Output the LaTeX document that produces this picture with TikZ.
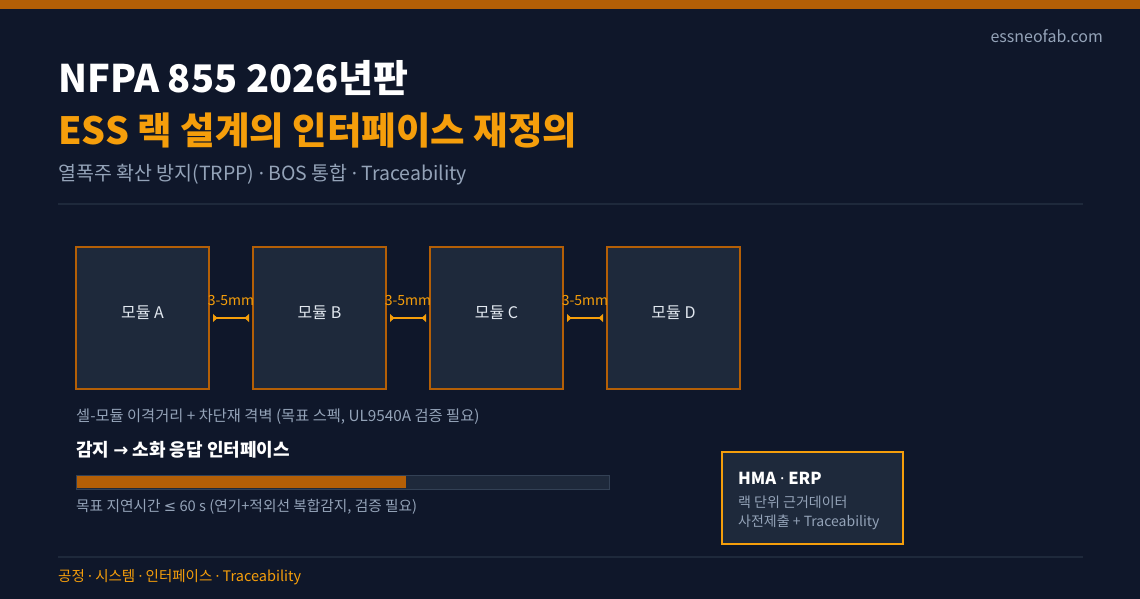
\documentclass[tikz,border=0pt]{standalone}
\usepackage{fontspec}
\setmainfont{Noto Sans CJK KR}
\newfontfamily\latinfont{Noto Sans}
\newfontfamily\symfont{DejaVu Sans}
\newcommand{\mdot}{{\latinfont ·}}
\newcommand{\leqmark}{{\symfont ≤}}
\newcommand{\rarrow}{{\symfont →}}
\usetikzlibrary{positioning,chains,arrows.meta}
\definecolor{bgnavy}{HTML}{0F172A}
\definecolor{panel}{HTML}{1E293B}
\definecolor{rust}{HTML}{B45F06}
\definecolor{amber}{HTML}{F59E0B}
\definecolor{slategray}{HTML}{94A3B8}
\definecolor{lighttext}{HTML}{E2E8F0}
\definecolor{rule}{HTML}{1E293B}
\definecolor{barline}{HTML}{334155}
\tikzset{
  module/.style={
    rectangle,
    draw=rust, line width=2pt,
    fill=panel,
    minimum width=133pt,
    minimum height=142pt,
    inner sep=0pt, outer sep=0pt,
    text height=6pt, text depth=6pt,
    text=lighttext,
    font=\fontsize{16}{19}\selectfont,
    on chain},
  gapline/.style={draw=amber, line width=1.5pt,
    {Latex[reversed,length=5pt,width=9pt]}-{Latex[reversed,length=5pt,width=9pt]},
    shorten <=4pt, shorten >=4pt},
  gaplabel/.style={text=amber, font=\fontsize{14}{16}\selectfont, inner sep=0pt},
  txt/.style={anchor=base west, inner sep=0pt},
  smallgray/.style={txt, text=slategray, font=\fontsize{15.3}{18}\selectfont},
  sepline/.style={draw=rule, line width=1.2pt},
}
\begin{document}
\begin{tikzpicture}[x=1pt, y=-1pt, node distance=44pt, start chain=going right]
  % background
  \fill[bgnavy] (0,0) rectangle (1140,599);
  \useasboundingbox (0,0) rectangle (1140,599);
  \fill[rust] (0,0) rectangle (1140,9);

  % header
  \node[anchor=base east, inner sep=0pt, text=slategray, font=\fontsize{16}{19}\selectfont] (site) at (1103,43) {essneofab.com};
  \node[txt, text=white, font=\fontsize{38}{44}\bfseries] (title) at (58,93) {NFPA 855 2026년판};
  \node[txt, text=amber, font=\fontsize{37.5}{44}\bfseries] (headline) at (58,145) {ESS 랙 설계의 인터페이스 재정의};
  \node[txt, text=slategray, font=\fontsize{19.5}{23}\selectfont] (subtitle) at (58,180) {열폭주 확산 방지(TRPP) \mdot{} BOS 통합 \mdot{} Traceability};
  \draw[sepline] (58,204) coordinate (topL) -- (1083,204) coordinate (topR);

  % modules
  \node[module] (modA) at (142.5,318) {모듈 A};
  \node[module] (modB) {모듈 B};
  \node[module] (modC) {모듈 C};
  \node[module] (modD) {모듈 D};
  \foreach \a/\b in {modA/modB, modB/modC, modC/modD}{
    \draw[gapline] (\a.east) -- (\b.west);
    \path (\a.east) -- (\b.west) node[gaplabel, midway, yshift=17pt] (gap\a) {3-5mm};
  }
  \node[smallgray] (spacing) at (76,421) {셀-모듈 이격거리 + 차단재 격벽 (목표 스펙, UL9540A 검증 필요)};

  % response bar
  \node[txt, text=white, font=\fontsize{18}{21}\bfseries] (resp) at (76,456) {감지 \rarrow{} 소화 응답 인터페이스};
  \draw[barline, fill=panel, line width=1pt] (76,475) coordinate (barL) rectangle (609,489) coordinate (barR);
  \fill[rust] (77,476) rectangle (406,488);
  \node[smallgray, font=\fontsize{14.7}{17}\selectfont] (latency) at (76,511) {목표 지연시간 \leqmark{} 60 s (연기+적외선 복합감지, 검증 필요)};

  % HMA box
  \node[rectangle, draw=amber, line width=2pt, fill=panel, minimum width=181pt, minimum height=92pt, inner sep=0pt] (hma) at (812.5,498) {};
  \node[txt, text=white, font=\fontsize{16.5}{19}\bfseries] (hmatitle) at (738,484.5) {HMA \mdot{} ERP};
  \node[txt, text=slategray, font=\fontsize{14}{16}\selectfont] (hmaone) at (738,507) {랙 단위 근거데이터};
  \node[txt, text=slategray, font=\fontsize{14}{16}\selectfont] (hmatwo) at (738,526) {사전제출 + Traceability};

  % footer
  \draw[sepline] (58,557) coordinate (botL) -- (1083,557) coordinate (botR);
  \node[txt, text=amber, font=\fontsize{14.5}{17}\selectfont] (footer) at (58,581) {공정 \mdot{} 시스템 \mdot{} 인터페이스 \mdot{} Traceability};
\end{tikzpicture}
\end{document}
